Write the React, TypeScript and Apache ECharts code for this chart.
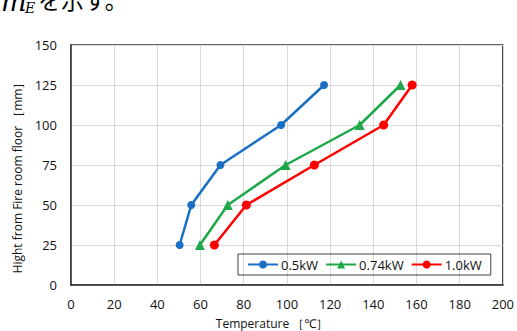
import React, { useEffect, useRef } from "react";
import * as echarts from "echarts";

const heights = [25, 50, 75, 100, 125];
const temp05 = [50.3, 55.7, 69.2, 97.3, 117.2];
const temp074 = [59.7, 72.6, 99.4, 133.7, 152.6];
const temp10 = [66.4, 81.2, 112.7, 144.8, 158];
const seriesNames = ["0.5kW", "0.74kW", "1.0kW"];
const colors = ["#1a6fc4", "#1ea84a", "#ff0000"];

const FONT = "'Open Sans', 'Noto Sans', sans-serif";

export default function App() {
  const ref = useRef<HTMLDivElement>(null);
  useEffect(() => {
    if (!ref.current) return;
    const chart = echarts.init(ref.current, undefined, { renderer: "svg" });
    const mk = (temps: number[]) => temps.map((t, i) => [t, heights[i]]);
    const datasets = [temp05, temp074, temp10];
    const symbols = ["circle", "triangle", "circle"];
    const sizes = [8, 10, 9];
    chart.setOption({
      animation: false,
      textStyle: { fontFamily: FONT },
      grid: {
        left: 71,
        right: 12,
        top: 45,
        bottom: 46,
        show: true,
        borderColor: "#333",
        borderWidth: 1.5,
        containLabel: false,
      },
      xAxis: {
        type: "value",
        min: 0,
        max: 200,
        interval: 20,
        axisLine: { show: true, lineStyle: { color: "#333", width: 1.5 } },
        axisTick: { show: false },
        axisLabel: { color: "#111", fontSize: 13, margin: 12, fontFamily: FONT },
        splitLine: { show: true, lineStyle: { color: "#d9d9d9", width: 1 } },
      },
      yAxis: {
        type: "value",
        min: 0,
        max: 150,
        interval: 25,
        axisLine: { show: true, lineStyle: { color: "#333", width: 1.5 } },
        axisTick: { show: false },
        axisLabel: { color: "#111", fontSize: 13, margin: 14, fontFamily: FONT },
        splitLine: { show: true, lineStyle: { color: "#d9d9d9", width: 1 } },
      },
      legend: {
        left: 238,
        top: 254,
        width: 259,
        orient: "horizontal",
        borderColor: "#404040",
        borderWidth: 1,
        padding: [4, 9],
        itemGap: 7,
        itemWidth: 30,
        itemHeight: 10,
        textStyle: { fontSize: 13, color: "#111", fontFamily: FONT, padding: [0, 0, 0, -2] },
        data: seriesNames,
      },
      graphic: [
        {
          type: "text",
          x: 1,
          y: 1,
          style: {
            text: "m",
            fontStyle: "italic",
            fontFamily: "'DejaVu Serif', serif",
            fontSize: 27,
            fill: "#000",
            align: "left",
            verticalAlign: "middle",
          },
        },
        {
          type: "text",
          x: 25,
          y: 8,
          style: {
            text: "E",
            fontStyle: "italic",
            fontFamily: "'DejaVu Serif', serif",
            fontSize: 14,
            fill: "#000",
            align: "left",
            verticalAlign: "middle",
          },
        },
        {
          type: "text",
          x: 38,
          y: -1,
          style: {
            text: "を示す。",
            fontFamily: "'Noto Sans CJK JP'",
            fontSize: 23,
            fill: "#000",
            align: "left",
            verticalAlign: "middle",
          },
        },
        {
          type: "text",
          x: 17,
          y: 175,
          rotation: Math.PI / 2,
          style: {
            text: "Hight from Fire room floor ［mm］",
            fontSize: 12,
            fontFamily: FONT,
            fill: "#111",
            align: "center",
            verticalAlign: "middle",
          },
        },
        {
          type: "text",
          x: 272,
          y: 323,
          style: {
            text: "Temperature ［℃］",
            fontSize: 12,
            fontFamily: FONT,
            fill: "#111",
            align: "center",
            verticalAlign: "middle",
          },
        },
      ],
      series: datasets.map((d, i) => ({
        name: seriesNames[i],
        type: "line",
        data: mk(d),
        symbol: symbols[i],
        symbolSize: sizes[i],
        showSymbol: true,
        lineStyle: { color: colors[i], width: 2.5 },
        itemStyle: { color: colors[i] },
      })),
    });
    return () => chart.dispose();
  }, []);
  return (
    <div
      ref={ref}
      style={{ position: "absolute", left: 0, top: 0, width: 517, height: 331, background: "#fff" }}
    />
  );
}
